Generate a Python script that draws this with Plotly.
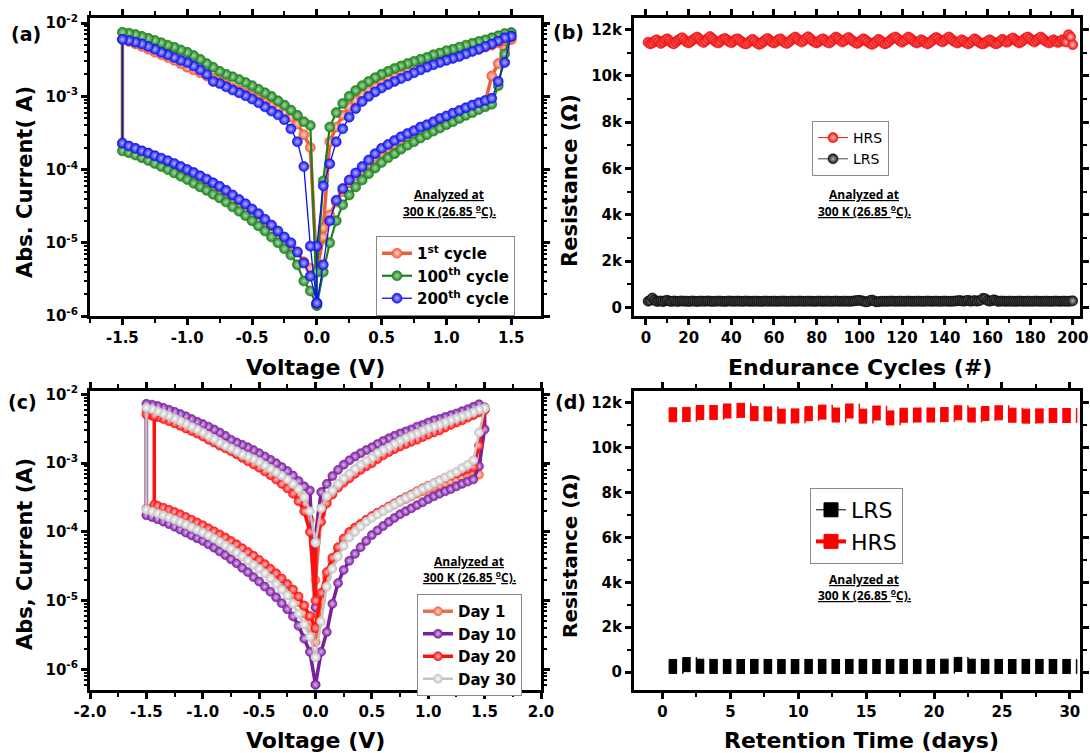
import plotly.graph_objects as go

W, H = 1090, 753
def px(x): return x / W
def py(y): return 1 - y / H

# ---------------- shared voltage sweep grid ----------------
V_POS = [0.00, 0.05, 0.10, 0.15, 0.20, 0.25, 0.30, 0.35, 0.40, 0.45, 0.50, 0.55, 0.60, 0.65, 0.70, 0.75,
         0.80, 0.85, 0.90, 0.95, 1.00, 1.05, 1.10, 1.15, 1.20, 1.25, 1.30, 1.35, 1.40, 1.45, 1.50]
V_NEG = [0.00, -0.05, -0.10, -0.15, -0.20, -0.25, -0.30, -0.35, -0.40, -0.45, -0.50, -0.55, -0.60, -0.65, -0.70, -0.75,
         -0.80, -0.85, -0.90, -0.95, -1.00, -1.05, -1.10, -1.15, -1.20, -1.25, -1.30, -1.35, -1.40, -1.45, -1.50]
# Day 20 resets earlier (-1.43 V) on its way back
V_D20_RETURN = [-1.43, -1.43, -1.40, -1.35, -1.30, -1.25, -1.20, -1.15, -1.10, -1.05, -1.00, -0.95, -0.90, -0.85, -0.80,
                -0.75, -0.70, -0.65, -0.60, -0.55, -0.50, -0.45, -0.40, -0.35, -0.30, -0.25, -0.20, -0.15, -0.10, -0.05, 0.00]

# tick labels
LOG_TICKS = [1e-6, 1e-5, 1e-4, 1e-3, 1e-2]
LOG_TEXT = ["10<sup>-6</sup>", "10<sup>-5</sup>", "10<sup>-4</sup>", "10<sup>-3</sup>", "10<sup>-2</sup>"]
VA_TICKS = [-1.5, -1.0, -0.5, 0.0, 0.5, 1.0, 1.5]
VA_TEXT = ["-1.5", "-1.0", "-0.5", "0.0", "0.5", "1.0", "1.5"]
VC_TICKS = [-2.0, -1.5, -1.0, -0.5, 0.0, 0.5, 1.0, 1.5, 2.0]
VC_TEXT = ["-2.0", "-1.5", "-1.0", "-0.5", "0.0", "0.5", "1.0", "1.5", "2.0"]
K_TICKS = [0, 2000, 4000, 6000, 8000, 10000, 12000]
K_TEXT = ["0", "2k", "4k", "6k", "8k", "10k", "12k"]

# ---------------- (a) endurance I-V cycles ----------------
# branch order: HRS 0->+1.5, LRS +1.5->0, LRS 0->-1.5, HRS -1.5->0
C1_HRS_P = [4e-6, 1.2e-5, 2.4e-5, 3.6e-5, 5.0e-5, 6.5e-5, 8.2e-5, 1.0e-4, 1.2e-4, 1.45e-4, 1.7e-4, 1.95e-4, 2.2e-4, 2.5e-4, 2.8e-4, 3.1e-4,
            3.4e-4, 3.8e-4, 4.2e-4, 4.6e-4, 5.0e-4, 5.5e-4, 6.0e-4, 6.5e-4, 7.1e-4, 7.7e-4, 8.3e-4, 1.9e-3, 2.8e-3, 4.5e-3, 6.0e-3]
C1_LRS_P = [6.0e-3, 5.8e-3, 5.4e-3, 5.0e-3, 4.7e-3, 4.4e-3, 4.2e-3, 4.0e-3, 3.8e-3, 3.6e-3, 3.4e-3, 3.2e-3, 3.0e-3, 2.8e-3, 2.6e-3, 2.4e-3,
            2.2e-3, 2.0e-3, 1.85e-3, 1.7e-3, 1.5e-3, 1.35e-3, 1.2e-3, 1.05e-3, 8.8e-4, 7.2e-4, 5.5e-4, 3.8e-4, 2.4e-4, 1.6e-5, 4e-6]
C1_LRS_N = [4e-6, 2.0e-4, 3.0e-4, 4.2e-4, 5.2e-4, 6.0e-4, 6.7e-4, 7.4e-4, 8.2e-4, 9.0e-4, 1.0e-3, 1.1e-3, 1.2e-3, 1.3e-3, 1.45e-3, 1.6e-3,
            1.75e-3, 1.9e-3, 2.1e-3, 2.3e-3, 2.5e-3, 2.8e-3, 3.1e-3, 3.4e-3, 3.7e-3, 4.0e-3, 4.4e-3, 4.8e-3, 5.2e-3, 5.6e-3, 6.0e-3]
C1_HRS_N = [2.2e-4, 2.05e-4, 1.9e-4, 1.77e-4, 1.64e-4, 1.52e-4, 1.4e-4, 1.29e-4, 1.18e-4, 1.08e-4, 9.8e-5, 8.9e-5, 8.0e-5, 7.2e-5, 6.4e-5, 5.7e-5,
            5.0e-5, 4.4e-5, 3.8e-5, 3.3e-5, 2.8e-5, 2.4e-5, 2.0e-5, 1.7e-5, 1.4e-5, 1.15e-5, 9.5e-6, 7.5e-6, 5.5e-6, 4.5e-6, 4e-6]

C100_HRS_P = [1.4e-6, 4e-6, 1.0e-5, 2.0e-5, 3.3e-5, 4.5e-5, 5.8e-5, 7.2e-5, 8.8e-5, 1.05e-4, 1.25e-4, 1.45e-4, 1.65e-4, 1.9e-4, 2.15e-4, 2.4e-4,
              2.7e-4, 3.0e-4, 3.35e-4, 3.7e-4, 4.1e-4, 4.5e-4, 5.0e-4, 5.5e-4, 6.0e-4, 6.6e-4, 7.2e-4, 7.8e-4, 1.4e-3, 3.8e-3, 7.4e-3]
C100_LRS_P = [7.4e-3, 7.2e-3, 6.7e-3, 6.3e-3, 5.9e-3, 5.6e-3, 5.3e-3, 5.0e-3, 4.7e-3, 4.4e-3, 4.2e-3, 3.9e-3, 3.7e-3, 3.4e-3, 3.2e-3, 3.0e-3,
              2.8e-3, 2.6e-3, 2.4e-3, 2.2e-3, 2.0e-3, 1.8e-3, 1.6e-3, 1.4e-3, 1.2e-3, 1.0e-3, 8.0e-4, 6.0e-4, 3.8e-4, 7e-5, 4e-6]
C100_LRS_N = [1.4e-6, 4.0e-4, 4.5e-4, 5.5e-4, 6.5e-4, 7.6e-4, 8.7e-4, 1.0e-3, 1.12e-3, 1.25e-3, 1.4e-3, 1.55e-3, 1.7e-3, 1.85e-3, 2.0e-3, 2.2e-3,
              2.5e-3, 2.8e-3, 3.2e-3, 3.6e-3, 4.0e-3, 4.3e-3, 4.7e-3, 5.0e-3, 5.4e-3, 5.8e-3, 6.2e-3, 6.6e-3, 7.0e-3, 7.3e-3, 7.5e-3]
C100_HRS_N = [1.8e-4, 1.7e-4, 1.58e-4, 1.45e-4, 1.33e-4, 1.21e-4, 1.1e-4, 1.0e-4, 9.0e-5, 8.1e-5, 7.3e-5, 6.5e-5, 5.8e-5, 5.2e-5, 4.6e-5, 4.1e-5,
              3.6e-5, 3.1e-5, 2.7e-5, 2.35e-5, 2.0e-5, 1.7e-5, 1.45e-5, 1.2e-5, 1.0e-5, 8.3e-6, 6.8e-6, 5.0e-6, 3.0e-6, 2.2e-6, 1.4e-6]

C200_HRS_P = [1.5e-6, 5e-6, 2.0e-5, 3.8e-5, 5.5e-5, 7.2e-5, 9.0e-5, 1.1e-4, 1.35e-4, 1.65e-4, 1.95e-4, 2.2e-4, 2.5e-4, 2.8e-4, 3.1e-4, 3.4e-4,
              3.8e-4, 4.1e-4, 4.5e-4, 5.0e-4, 5.4e-4, 5.9e-4, 6.4e-4, 7.0e-4, 7.6e-4, 8.2e-4, 8.8e-4, 9.4e-4, 1.6e-3, 2.9e-3, 6.6e-3]
C200_LRS_P = [6.6e-3, 6.3e-3, 5.7e-3, 5.2e-3, 4.8e-3, 4.4e-3, 4.1e-3, 3.8e-3, 3.5e-3, 3.3e-3, 3.1e-3, 2.9e-3, 2.7e-3, 2.5e-3, 2.3e-3, 2.1e-3,
              1.9e-3, 1.75e-3, 1.6e-3, 1.45e-3, 1.3e-3, 1.15e-3, 1.0e-3, 8.5e-4, 6.8e-4, 5.2e-4, 3.6e-4, 2.4e-4, 1.2e-4, 6e-5, 9e-6]
C200_LRS_N = [1.5e-6, 9e-6, 1.1e-4, 2.4e-4, 3.6e-4, 4.8e-4, 5.6e-4, 6.3e-4, 7.2e-4, 8.2e-4, 9.2e-4, 1.02e-3, 1.12e-3, 1.22e-3, 1.35e-3, 1.5e-3,
              1.6e-3, 2.0e-3, 2.3e-3, 2.6e-3, 2.9e-3, 3.1e-3, 3.4e-3, 3.7e-3, 4.0e-3, 4.4e-3, 4.8e-3, 5.2e-3, 5.5e-3, 5.8e-3, 6.0e-3]
C200_HRS_N = [2.3e-4, 2.1e-4, 1.95e-4, 1.8e-4, 1.68e-4, 1.55e-4, 1.43e-4, 1.32e-4, 1.21e-4, 1.1e-4, 1.0e-4, 9.1e-5, 8.2e-5, 7.4e-5, 6.6e-5, 5.9e-5,
              5.2e-5, 4.5e-5, 3.9e-5, 3.4e-5, 2.9e-5, 2.5e-5, 2.1e-5, 1.75e-5, 1.45e-5, 1.2e-5, 1.0e-5, 7.5e-6, 5.3e-6, 3.5e-6, 1.5e-6]

# ---------------- (c) retention I-V (days) ----------------
D1_HRS_P = [2.5e-6, 1.0e-5, 2.2e-5, 3.8e-5, 5.8e-5, 7.8e-5, 9.8e-5, 1.15e-4, 1.3e-4, 1.48e-4, 1.66e-4, 1.85e-4, 2.05e-4, 2.27e-4, 2.5e-4, 2.75e-4,
            3.0e-4, 3.3e-4, 3.6e-4, 3.9e-4, 4.2e-4, 4.5e-4, 4.8e-4, 5.1e-4, 5.4e-4, 5.7e-4, 6.0e-4, 6.3e-4, 6.5e-4, 6.8e-4, 6.0e-3]
D1_LRS_P = [6.0e-3, 5.6e-3, 5.2e-3, 4.8e-3, 4.4e-3, 4.1e-3, 3.8e-3, 3.5e-3, 3.2e-3, 3.0e-3, 2.8e-3, 2.6e-3, 2.4e-3, 2.2e-3, 2.05e-3, 1.9e-3,
            1.75e-3, 1.6e-3, 1.45e-3, 1.3e-3, 1.15e-3, 1.02e-3, 9.0e-4, 7.8e-4, 6.7e-4, 5.7e-4, 4.8e-4, 3.9e-4, 2.9e-4, 1.8e-4, 2e-5]
D1_LRS_N = [5e-6, 1.5e-4, 2.6e-4, 3.6e-4, 4.5e-4, 5.3e-4, 6.1e-4, 7.0e-4, 7.9e-4, 8.9e-4, 1.0e-3, 1.1e-3, 1.2e-3, 1.32e-3, 1.45e-3, 1.6e-3,
            1.75e-3, 1.92e-3, 2.1e-3, 2.3e-3, 2.55e-3, 2.8e-3, 3.1e-3, 3.4e-3, 3.7e-3, 4.1e-3, 4.5e-3, 4.9e-3, 5.3e-3, 5.6e-3, 5.9e-3]
D1_HRS_N = [2.2e-4, 2.1e-4, 1.98e-4, 1.86e-4, 1.74e-4, 1.62e-4, 1.51e-4, 1.4e-4, 1.29e-4, 1.19e-4, 1.1e-4, 1.0e-4, 9.1e-5, 8.2e-5, 7.4e-5, 6.6e-5,
            5.9e-5, 5.2e-5, 4.6e-5, 4.0e-5, 3.5e-5, 3.0e-5, 2.6e-5, 2.2e-5, 1.85e-5, 1.55e-5, 1.25e-5, 9.5e-6, 6.5e-6, 4e-6, 2.5e-6]

D10_HRS_P = [6e-7, 1.8e-6, 3.5e-6, 9e-6, 1.8e-5, 2.8e-5, 3.8e-5, 4.8e-5, 6.0e-5, 7.4e-5, 9.0e-5, 1.05e-4, 1.22e-4, 1.4e-4, 1.6e-4, 1.8e-4,
             2.0e-4, 2.2e-4, 2.45e-4, 2.7e-4, 3.0e-4, 3.3e-4, 3.6e-4, 3.9e-4, 4.2e-4, 4.6e-4, 5.0e-4, 5.4e-4, 5.8e-4, 9.0e-4, 3.1e-3]
D10_LRS_P = [6.5e-3, 7.2e-3, 6.6e-3, 6.1e-3, 5.7e-3, 5.3e-3, 5.0e-3, 4.7e-3, 4.4e-3, 4.2e-3, 3.9e-3, 3.6e-3, 3.4e-3, 3.1e-3, 2.9e-3, 2.7e-3,
             2.5e-3, 2.3e-3, 2.1e-3, 1.9e-3, 1.7e-3, 1.55e-3, 1.4e-3, 1.25e-3, 1.1e-3, 9.5e-4, 8.0e-4, 6.5e-4, 5.0e-4, 3.8e-4, 9e-5]
D10_LRS_N = [8e-6, 4.0e-4, 4.6e-4, 5.5e-4, 6.6e-4, 7.7e-4, 8.8e-4, 1.0e-3, 1.12e-3, 1.25e-3, 1.4e-3, 1.55e-3, 1.7e-3, 1.85e-3, 2.0e-3, 2.2e-3,
             2.5e-3, 2.8e-3, 3.1e-3, 3.4e-3, 3.7e-3, 4.0e-3, 4.4e-3, 4.8e-3, 5.2e-3, 5.6e-3, 6.0e-3, 6.4e-3, 6.8e-3, 7.1e-3, 7.3e-3]
D10_HRS_N = [1.75e-4, 1.65e-4, 1.53e-4, 1.41e-4, 1.3e-4, 1.19e-4, 1.08e-4, 9.8e-5, 8.9e-5, 8.1e-5, 7.4e-5, 6.6e-5, 5.9e-5, 5.2e-5, 4.6e-5, 4.0e-5,
             3.5e-5, 3.0e-5, 2.6e-5, 2.2e-5, 1.9e-5, 1.6e-5, 1.35e-5, 1.12e-5, 9.2e-6, 7.5e-6, 5.9e-6, 4.3e-6, 2.8e-6, 1.8e-6, 6e-7]

D20_HRS_P = [4e-6, 1.3e-5, 2.6e-5, 4.2e-5, 6.0e-5, 8.0e-5, 1.0e-4, 1.15e-4, 1.3e-4, 1.5e-4, 1.7e-4, 1.9e-4, 2.1e-4, 2.35e-4, 2.6e-4, 2.9e-4,
             3.2e-4, 3.5e-4, 3.9e-4, 4.3e-4, 4.7e-4, 5.1e-4, 5.6e-4, 6.1e-4, 6.6e-4, 7.1e-4, 7.7e-4, 8.3e-4, 8.8e-4, 1.8e-3, 6.0e-3]
D20_LRS_P = [6.0e-3, 5.5e-3, 5.0e-3, 4.6e-3, 4.2e-3, 3.9e-3, 3.6e-3, 3.3e-3, 3.0e-3, 2.8e-3, 2.6e-3, 2.4e-3, 2.2e-3, 2.05e-3, 1.9e-3, 1.75e-3,
             1.6e-3, 1.45e-3, 1.3e-3, 1.15e-3, 1.0e-3, 9.0e-4, 8.0e-4, 7.0e-4, 6.0e-4, 5.2e-4, 4.4e-4, 3.5e-4, 2.6e-4, 1.4e-4, 7e-5]
D20_LRS_N = [1e-5, 1.0e-4, 2.0e-4, 2.8e-4, 3.6e-4, 4.3e-4, 5.0e-4, 5.8e-4, 6.7e-4, 7.6e-4, 8.6e-4, 9.6e-4, 1.07e-3, 1.2e-3, 1.35e-3, 1.5e-3,
             1.65e-3, 1.8e-3, 2.0e-3, 2.2e-3, 2.45e-3, 2.7e-3, 2.95e-3, 3.2e-3, 3.5e-3, 3.8e-3, 4.1e-3, 4.4e-3, 4.7e-3, 4.9e-3, 5.1e-3]
D20_HRS_N = [4.9e-3, 2.5e-4, 2.4e-4, 2.25e-4, 2.1e-4, 1.95e-4, 1.8e-4, 1.65e-4, 1.5e-4, 1.37e-4, 1.25e-4, 1.13e-4, 1.02e-4, 9.2e-5, 8.3e-5, 7.4e-5,
             6.6e-5, 5.8e-5, 5.1e-5, 4.5e-5, 3.9e-5, 3.4e-5, 2.9e-5, 2.5e-5, 2.1e-5, 1.75e-5, 1.45e-5, 1.15e-5, 8.5e-6, 6e-6, 4e-6]

D30_HRS_P = [1.5e-6, 5e-6, 1.6e-5, 2.9e-5, 4.4e-5, 6.3e-5, 8.3e-5, 1.0e-4, 1.2e-4, 1.4e-4, 1.6e-4, 1.8e-4, 2.0e-4, 2.25e-4, 2.5e-4, 2.8e-4,
             3.1e-4, 3.4e-4, 3.8e-4, 4.2e-4, 4.6e-4, 5.1e-4, 5.6e-4, 6.2e-4, 6.8e-4, 7.5e-4, 8.5e-4, 9.5e-4, 1.1e-3, 2.8e-3, 6.3e-3]
D30_LRS_P = [6.3e-3, 6.0e-3, 5.5e-3, 5.1e-3, 4.8e-3, 4.5e-3, 4.2e-3, 3.9e-3, 3.6e-3, 3.4e-3, 3.2e-3, 2.95e-3, 2.7e-3, 2.5e-3, 2.3e-3, 2.1e-3,
             1.9e-3, 1.7e-3, 1.55e-3, 1.4e-3, 1.2e-3, 1.08e-3, 9.5e-4, 8.2e-4, 7.0e-4, 6.0e-4, 5.0e-4, 4.0e-4, 3.3e-4, 2.2e-4, 7e-5]
D30_LRS_N = [7e-5, 2.0e-4, 3.2e-4, 4.2e-4, 5.0e-4, 5.8e-4, 6.6e-4, 7.4e-4, 8.3e-4, 9.3e-4, 1.05e-3, 1.15e-3, 1.25e-3, 1.35e-3, 1.5e-3, 1.65e-3,
             1.8e-3, 2.0e-3, 2.25e-3, 2.5e-3, 2.8e-3, 3.1e-3, 3.4e-3, 3.75e-3, 4.1e-3, 4.5e-3, 4.9e-3, 5.3e-3, 5.7e-3, 6.1e-3, 6.4e-3]
D30_HRS_N = [2.1e-4, 1.98e-4, 1.86e-4, 1.74e-4, 1.62e-4, 1.5e-4, 1.39e-4, 1.28e-4, 1.17e-4, 1.07e-4, 9.8e-5, 8.9e-5, 8.0e-5, 7.2e-5, 6.4e-5, 5.7e-5,
             5.0e-5, 4.4e-5, 3.8e-5, 3.3e-5, 2.9e-5, 2.5e-5, 2.1e-5, 1.75e-5, 1.45e-5, 1.2e-5, 9.0e-6, 6.5e-6, 4.5e-6, 3.0e-6, 1.5e-6]

# ---------------- (b) endurance resistance ----------------
CYCLES = list(range(1, 201))
R_HRS_CYC = [11450, 11380, 11420, 11500, 11560, 11480, 11400, 11470, 11550, 11600, 11520, 11430, 11380, 11460, 11540, 11600, 11650, 11560, 11470, 11420,
             11480, 11560, 11620, 11680, 11600, 11500, 11440, 11520, 11620, 11700, 11620, 11530, 11450, 11420, 11500, 11580, 11620, 11560, 11480, 11430,
             11500, 11570, 11600, 11540, 11460, 11400, 11380, 11440, 11520, 11580, 11500, 11420, 11360, 11400, 11480, 11560, 11620, 11540, 11460, 11420,
             11480, 11560, 11600, 11520, 11440, 11400, 11460, 11540, 11620, 11680, 11600, 11520, 11460, 11530, 11620, 11690, 11610, 11520, 11460, 11420,
             11480, 11560, 11600, 11530, 11450, 11420, 11500, 11600, 11680, 11620, 11540, 11460, 11520, 11600, 11660, 11580, 11500, 11440, 11400, 11460,
             11540, 11600, 11540, 11460, 11400, 11360, 11420, 11500, 11580, 11520, 11440, 11380, 11420, 11500, 11580, 11640, 11680, 11600, 11510, 11450,
             11520, 11600, 11680, 11620, 11540, 11460, 11420, 11480, 11560, 11500, 11430, 11380, 11440, 11520, 11600, 11660, 11600, 11520, 11470, 11540,
             11620, 11680, 11600, 11520, 11460, 11420, 11480, 11560, 11500, 11430, 11380, 11440, 11520, 11600, 11540, 11460, 11400, 11380, 11440, 11500,
             11560, 11500, 11430, 11380, 11420, 11500, 11580, 11520, 11450, 11500, 11580, 11640, 11560, 11480, 11420, 11480, 11560, 11640, 11680, 11600,
             11520, 11460, 11540, 11620, 11680, 11600, 11520, 11460, 11420, 11480, 11560, 11500, 11440, 11480, 11560, 11500, 11460, 11780, 11680, 11350]
R_LRS_CYC = [270, 300, 410, 320, 260, 270, 280, 250, 290, 310, 270, 260, 280, 270, 260, 275, 280, 265, 270, 260,
             270, 280, 265, 260, 270, 275, 265, 270, 280, 270, 260, 265, 270, 275, 270, 265, 260, 270, 280, 270,
             265, 270, 275, 268, 262, 270, 276, 270, 264, 268, 272, 270, 266, 262, 270, 275, 270, 265, 270, 272,
             268, 264, 270, 276, 270, 265, 268, 272, 270, 266, 270, 275, 270, 264, 268, 272, 270, 266, 262, 270,
             275, 270, 265, 270, 272, 268, 264, 270, 276, 270, 265, 268, 272, 270, 266, 270, 275, 290, 300, 310,
             290, 270, 240, 250, 300, 320, 280, 240, 250, 265, 270, 268, 264, 270, 276, 270, 265, 268, 272, 270,
             266, 270, 275, 270, 264, 268, 272, 270, 266, 262, 270, 275, 270, 265, 270, 272, 268, 264, 270, 276,
             270, 265, 268, 272, 275, 290, 300, 280, 270, 290, 310, 270, 280, 300, 270, 290, 320, 400, 380, 300,
             270, 290, 330, 300, 260, 270, 275, 270, 265, 270, 272, 268, 264, 270, 276, 270, 265, 268, 272, 270,
             266, 270, 275, 270, 264, 268, 272, 270, 266, 262, 270, 275, 270, 265, 270, 272, 268, 264, 275, 285]

# ---------------- (d) retention resistance ----------------
DAYS = list(range(1, 31))
R_HRS_DAY = [11460, 11480, 11560, 11560, 11630, 11660, 11510, 11500, 11400, 11410, 11510, 11580, 11450, 11630, 11400,
             11540, 11320, 11440, 11450, 11450, 11470, 11550, 11450, 11520, 11550, 11440, 11400, 11410, 11430, 11430]
R_LRS_DAY = [250, 330, 260, 250, 250, 245, 250, 250, 245, 245, 250, 250, 245, 250, 250,
             245, 250, 250, 245, 250, 260, 340, 260, 250, 250, 245, 250, 250, 245, 250]

for arr in [C1_HRS_P, C1_LRS_P, C1_LRS_N, C1_HRS_N, C100_HRS_P, C100_LRS_P, C100_LRS_N, C100_HRS_N,
            C200_HRS_P, C200_LRS_P, C200_LRS_N, C200_HRS_N, D1_HRS_P, D1_LRS_P, D1_LRS_N, D1_HRS_N,
            D10_HRS_P, D10_LRS_P, D10_LRS_N, D10_HRS_N, D20_HRS_P, D20_LRS_P, D20_LRS_N, D20_HRS_N,
            D30_HRS_P, D30_LRS_P, D30_LRS_N, D30_HRS_N]:
    assert len(arr) == 31, len(arr)
assert len(R_HRS_CYC) == 200 and len(R_LRS_CYC) == 200
assert len(R_HRS_DAY) == 30 and len(R_LRS_DAY) == 30

FONT = "DejaVu Sans"

def sweep(hp, lp, ln, hn, v_return=None):
    vr = V_NEG[::-1] if v_return is None else v_return
    x = V_POS + V_POS[::-1] + V_NEG + vr
    y = hp + lp + ln + hn
    return x, y

def sphere(edge, light, size):
    return dict(symbol="circle", size=size, color=edge,
                gradient=dict(type="radial", color=light),
                line=dict(width=0.6, color=edge))

fig = go.Figure()

# (a)
for name, arrs, col, light, lw in [
    ("1<sup>st</sup> cycle", (C1_HRS_P, C1_LRS_P, C1_LRS_N, C1_HRS_N), "#EE5E3C", "#FFD2C4", 3.5),
    ("100<sup>th</sup> cycle", (C100_HRS_P, C100_LRS_P, C100_LRS_N, C100_HRS_N), "#1C801C", "#A6DCA6", 2.2),
    ("200<sup>th</sup> cycle", (C200_HRS_P, C200_LRS_P, C200_LRS_N, C200_HRS_N), "#1010EE", "#B4B4FF", 1.3),
]:
    x, y = sweep(*arrs)
    fig.add_trace(go.Scatter(x=x, y=y, mode="lines+markers", name=name, legend="legend",
                             line=dict(color=col, width=lw), marker=sphere(col, light, 10),
                             xaxis="x", yaxis="y"))

# (b)
fig.add_trace(go.Scatter(x=CYCLES, y=R_HRS_CYC, mode="lines+markers", name="HRS", legend="legend2",
                         line=dict(color="#F01818", width=1), marker=sphere("#F01010", "#FFC0C0", 10),
                         xaxis="x2", yaxis="y2"))
fig.add_trace(go.Scatter(x=CYCLES, y=R_LRS_CYC, mode="lines+markers", name="LRS", legend="legend2",
                         line=dict(color="#444444", width=1), marker=sphere("#111111", "#B0B0B0", 10),
                         xaxis="x2", yaxis="y2"))

# (c)
for name, arrs, col, light, lw, vr in [
    ("Day 1", (D1_HRS_P, D1_LRS_P, D1_LRS_N, D1_HRS_N), "#EF6A4A", "#FFD6C8", 3.5, None),
    ("Day 10", (D10_HRS_P, D10_LRS_P, D10_LRS_N, D10_HRS_N), "#7A1E9C", "#DDB8F0", 3.5, None),
    ("Day 20", (D20_HRS_P, D20_LRS_P, D20_LRS_N, D20_HRS_N), "#FF1010", "#FFC4C4", 3.5, V_D20_RETURN),
    ("Day 30", (D30_HRS_P, D30_LRS_P, D30_LRS_N, D30_HRS_N), "#C4C4C4", "#FFFFFF", 2.5, None),
]:
    x, y = sweep(*arrs, v_return=vr)
    fig.add_trace(go.Scatter(x=x, y=y, mode="lines+markers", name=name, legend="legend3",
                             line=dict(color=col, width=lw), marker=sphere(col, light, 9),
                             xaxis="x3", yaxis="y3"))

# (d) half-filled squares: filled square + white stripe drawn on a slightly shifted twin axis
for name, vals, col, lw in [("LRS", R_LRS_DAY, "#000000", 1), ("HRS", R_HRS_DAY, "#FF0000", 4)]:
    fig.add_trace(go.Scatter(x=DAYS, y=vals, mode="lines+markers", name=name, legend="legend4",
                             line=dict(color=col, width=lw),
                             marker=dict(symbol="square", size=14, color=col, line=dict(width=1, color=col)),
                             xaxis="x4", yaxis="y4", legendgroup=name))
    fig.add_trace(go.Scatter(x=DAYS, y=vals, mode="markers", showlegend=False, legendgroup=name,
                             marker=dict(symbol="line-ns", size=12, line=dict(width=5, color="white")),
                             xaxis="x5", yaxis="y4", hoverinfo="skip"))

# ---------------- axes ----------------
def ax(domain, rng, **kw):
    d = dict(domain=domain, range=rng, showline=True, linecolor="black", linewidth=3, mirror="ticks",
             ticks="outside", ticklen=6, tickwidth=2.5, tickcolor="black", showgrid=False, zeroline=False,
             automargin=False,
             tickfont=dict(family=FONT, size=15, weight="bold", color="black"))
    d.update(kw)
    return d

XA = [px(90), px(541)]
XB = [px(634), px(1080)]
YTOP = [py(316), py(18)]
YBOT = [py(690), py(391)]

LOG_MINOR_VALS = [k * 10.0 ** e for e in range(-7, -1) for k in range(2, 10)]
log_minor = dict(tickmode="array", tickvals=LOG_MINOR_VALS, ticks="outside", ticklen=3, tickwidth=1.5, tickcolor="black")
def lin_minor(step):
    return dict(dtick=step, ticks="outside", ticklen=4, tickwidth=2, tickcolor="black")

fig.update_layout(
    xaxis=ax(XA, [-1.75, 1.73], tickmode="array", tickvals=VA_TICKS, ticktext=VA_TEXT, anchor="y",
             minor=lin_minor(0.25)),
    yaxis=ax(YTOP, [-6.0, -1.93], type="log", tickmode="array", tickvals=LOG_TICKS, ticktext=LOG_TEXT,
             anchor="x", minor=log_minor),
    xaxis2=ax(XB, [-5.6, 203.4], dtick=20, tick0=0, anchor="y2", minor=lin_minor(10)),
    yaxis2=ax(YTOP, [-370, 12500], tickmode="array", tickvals=K_TICKS, ticktext=K_TEXT, anchor="x2",
              minor=lin_minor(1000)),
    xaxis3=ax(XA, [-2.0, 2.0], tickmode="array", tickvals=VC_TICKS, ticktext=VC_TEXT, anchor="y3",
              minor=lin_minor(0.25)),
    yaxis3=ax(YBOT, [-6.3, -1.95], type="log", tickmode="array", tickvals=LOG_TICKS, ticktext=LOG_TEXT,
              anchor="x3", minor=log_minor),
    xaxis4=ax(XB, [-2.1, 30.75], dtick=5, tick0=0, anchor="y4", minor=lin_minor(2.5)),
    yaxis4=ax(YBOT, [-800, 12520], tickmode="array", tickvals=K_TICKS, ticktext=K_TEXT, anchor="x4",
              minor=lin_minor(1000)),
    xaxis5=dict(domain=XB, range=[-2.1 - 0.26, 30.75 - 0.26], overlaying="x4", anchor="y4",
                visible=False, automargin=False),
)

# ---------------- legends ----------------
def leg(x, y, size, bold, **kw):
    d = dict(x=px(x), y=py(y), xanchor="left", yanchor="top", bgcolor="white",
             bordercolor="#8a8a8a", borderwidth=1, itemwidth=30, tracegroupgap=0,
             font=dict(family=FONT, size=size, color="black", weight="bold" if bold else "normal"))
    d.update(kw)
    return d

fig.update_layout(
    legend=leg(376, 236, 15, True),
    legend2=leg(812, 121, 14, False),
    legend3=leg(417, 594, 15, True),
    legend4=leg(810, 488, 22, False),
)

# ---------------- texts ----------------
ann = []
def text(x, y, s, size, bold=True, angle=0, family=FONT):
    ann.append(dict(x=px(x), y=py(y), xref="paper", yref="paper", text=s, showarrow=False,
                    textangle=angle, xanchor="center", yanchor="middle",
                    font=dict(family=family, size=size, color="black", weight="bold" if bold else "normal")))

for lbl, x, y in [("(a)", 26, 34), ("(b)", 568, 32), ("(c)", 22, 402), ("(d)", 571, 402)]:
    text(x, y, lbl, 19)

text(315, 367, "Voltage (V)", 22)
text(860, 367, "Endurance Cycles (#)", 22)
text(315, 740, "Voltage (V)", 22)
text(861, 740, "Retention Time (days)", 22)
text(25, 182, "Abs. Current( A)", 21, angle=-90)
text(570, 181, "Resistance (Ω)", 21, angle=-90)
text(25, 554, "Abs, Current (A)", 21, angle=-90)
text(570, 556, "Resistance (Ω)", 20, angle=-90)

for cx, y1, y2 in [(449, 194, 211), (864, 194, 211), (469, 561, 577), (864, 579, 595)]:
    text(cx, y1, "<u>Analyzed at</u>", 12, family="Open Sans")
    text(cx, y2, "<u>300 K (26.85 <sup>o</sup>C).</u>", 12, family="Open Sans")

fig.update_layout(annotations=ann, width=W, height=H, margin=dict(l=0, r=0, t=0, b=0, autoexpand=False),
                  paper_bgcolor="white", plot_bgcolor="white", showlegend=True)

fig.write_html("out.html")
